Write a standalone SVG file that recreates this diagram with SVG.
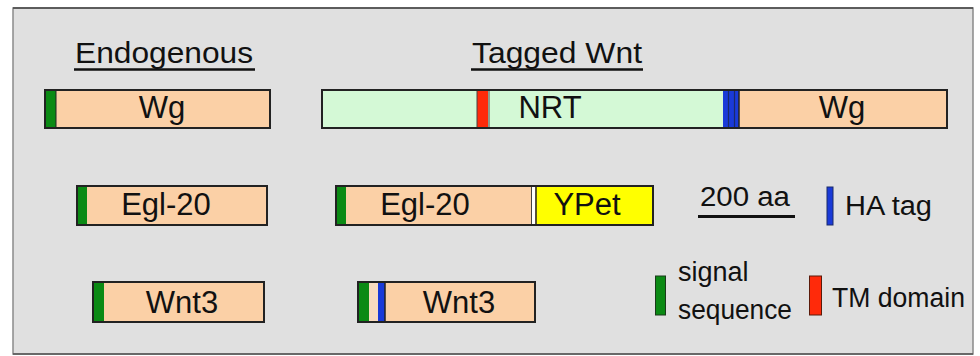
<svg xmlns="http://www.w3.org/2000/svg" width="980" height="356" viewBox="0 0 980 356">
  <style>
    .box { stroke: #222; stroke-width: 2; }
    .seg { stroke: none; }
    .lbl { font-family: "Liberation Sans", Arial, sans-serif; font-size: 31px; fill: #111; text-anchor: middle; }
    .hdr { font-family: "Liberation Sans", Arial, sans-serif; font-size: 30px; fill: #111; }
    .leg { font-family: "Liberation Sans", Arial, sans-serif; font-size: 27px; fill: #111; }
    .peach { fill: #fbd0a6; }
    .mint { fill: #d4f9d6; }
    .ypet { fill: #ffff00; }
    .sig { fill: #0b8a14; }
    .tm { fill: #ff2a0a; }
    .ha { fill: #1a3ad8; }
  </style>

  <!-- panel -->
  <rect x="0" y="0" width="980" height="356" fill="#ffffff"/>
  <rect x="13" y="8" width="960" height="346" fill="#e0e0e0" stroke="#8a8a8a" stroke-width="1.5"/>
  <line x1="13" y1="8" x2="973" y2="8" stroke="#444" stroke-width="1.5"/>
  <line x1="13" y1="354" x2="973" y2="354" stroke="#555" stroke-width="1.5"/>

  <!-- column headers -->
  <g id="header-endogenous">
    <text class="hdr" x="75" y="63" textLength="178" lengthAdjust="spacingAndGlyphs">Endogenous</text>
    <line x1="74" y1="69.5" x2="255" y2="69.5" stroke="#111" stroke-width="2.5"/>
  </g>
  <g id="header-tagged">
    <text class="hdr" x="472" y="63" textLength="170" lengthAdjust="spacingAndGlyphs">Tagged Wnt</text>
    <line x1="471" y1="69.5" x2="643" y2="69.5" stroke="#111" stroke-width="2.5"/>
  </g>

  <!-- endogenous Wg -->
  <g id="wg-endo">
    <rect class="peach box" x="45" y="90" width="225" height="38"/>
    <rect class="sig seg" x="46" y="91" width="10" height="36"/>
    <line x1="56" y1="91" x2="56" y2="127" stroke="#222" stroke-width="1"/>
    <text class="lbl" x="162" y="118">Wg</text>
  </g>

  <!-- tagged Wg: NRT-HA-Wg -->
  <g id="nrt-wg">
    <rect class="mint box" x="322" y="90" width="625" height="38"/>
    <rect class="peach seg" x="739" y="91" width="207" height="36"/>
    <rect class="tm seg" x="477" y="91" width="11" height="36"/>
    <line x1="477" y1="91" x2="477" y2="127" stroke="#444" stroke-width="1"/>
    <line x1="489" y1="91" x2="489" y2="127" stroke="#444" stroke-width="1"/>
    <rect class="ha seg" x="723" y="91" width="16" height="36"/>
    <line x1="728.5" y1="91" x2="728.5" y2="127" stroke="#1a2a6a" stroke-width="1.2"/>
    <line x1="734.5" y1="91" x2="734.5" y2="127" stroke="#1a2a6a" stroke-width="1.2"/>
    <line x1="739" y1="91" x2="739" y2="127" stroke="#222" stroke-width="1.5"/>
    <text class="lbl" x="550" y="118">NRT</text>
    <text class="lbl" x="842" y="118">Wg</text>
  </g>

  <!-- endogenous Egl-20 -->
  <g id="egl20-endo">
    <rect class="peach box" x="77" y="186" width="190" height="39"/>
    <rect class="sig seg" x="78" y="187" width="9" height="37"/>
    <text class="lbl" x="166" y="215">Egl-20</text>
  </g>

  <!-- tagged Egl-20::YPet -->
  <g id="egl20-ypet">
    <rect class="peach box" x="336" y="186" width="317" height="39"/>
    <rect class="sig seg" x="337" y="187" width="9" height="37"/>
    <rect class="ypet seg" x="536" y="187" width="116" height="37"/>
    <rect x="532" y="187" width="3" height="37" fill="#ffffff"/>
    <line x1="531.5" y1="187" x2="531.5" y2="224" stroke="#444" stroke-width="1"/>
    <line x1="536" y1="187" x2="536" y2="224" stroke="#222" stroke-width="1.5"/>
    <text class="lbl" x="425" y="215">Egl-20</text>
    <text class="lbl" x="587" y="215">YPet</text>
  </g>

  <!-- endogenous Wnt3 -->
  <g id="wnt3-endo">
    <rect class="peach box" x="93" y="282" width="171" height="40"/>
    <rect class="sig seg" x="94" y="283" width="10" height="38"/>
    <text class="lbl" x="182" y="313">Wnt3</text>
  </g>

  <!-- tagged Wnt3 -->
  <g id="wnt3-ha">
    <rect class="peach box" x="358" y="282" width="177" height="40"/>
    <rect class="sig seg" x="359" y="283" width="10" height="38"/>
    <rect x="369" y="283" width="9" height="38" fill="#f9dcc0"/>
    <rect class="ha seg" x="378" y="283" width="7" height="38"/>
    <line x1="385" y1="283" x2="385" y2="321" stroke="#222" stroke-width="1.5"/>
    <text class="lbl" x="459" y="313">Wnt3</text>
  </g>

  <!-- legend -->
  <g id="legend-scale">
    <text class="leg" x="700" y="206" textLength="90" lengthAdjust="spacingAndGlyphs">200 aa</text>
    <line x1="698" y1="216.5" x2="795" y2="216.5" stroke="#111" stroke-width="3"/>
  </g>
  <g id="legend-ha">
    <rect class="ha" x="827" y="187" width="6" height="38" stroke="#1a2a6a" stroke-width="1"/>
    <text class="leg" x="845" y="215" textLength="87" lengthAdjust="spacingAndGlyphs">HA tag</text>
  </g>
  <g id="legend-signal">
    <rect class="sig" x="655.5" y="276" width="10" height="39" stroke="#1a3a1a" stroke-width="1"/>
    <text class="leg" x="678" y="281">signal</text>
    <text class="leg" x="678" y="319" textLength="114" lengthAdjust="spacingAndGlyphs">sequence</text>
  </g>
  <g id="legend-tm">
    <rect class="tm" x="809.5" y="276" width="12" height="39" stroke="#5a1a0a" stroke-width="1"/>
    <text class="leg" x="832" y="307" textLength="133" lengthAdjust="spacingAndGlyphs">TM domain</text>
  </g>
</svg>
